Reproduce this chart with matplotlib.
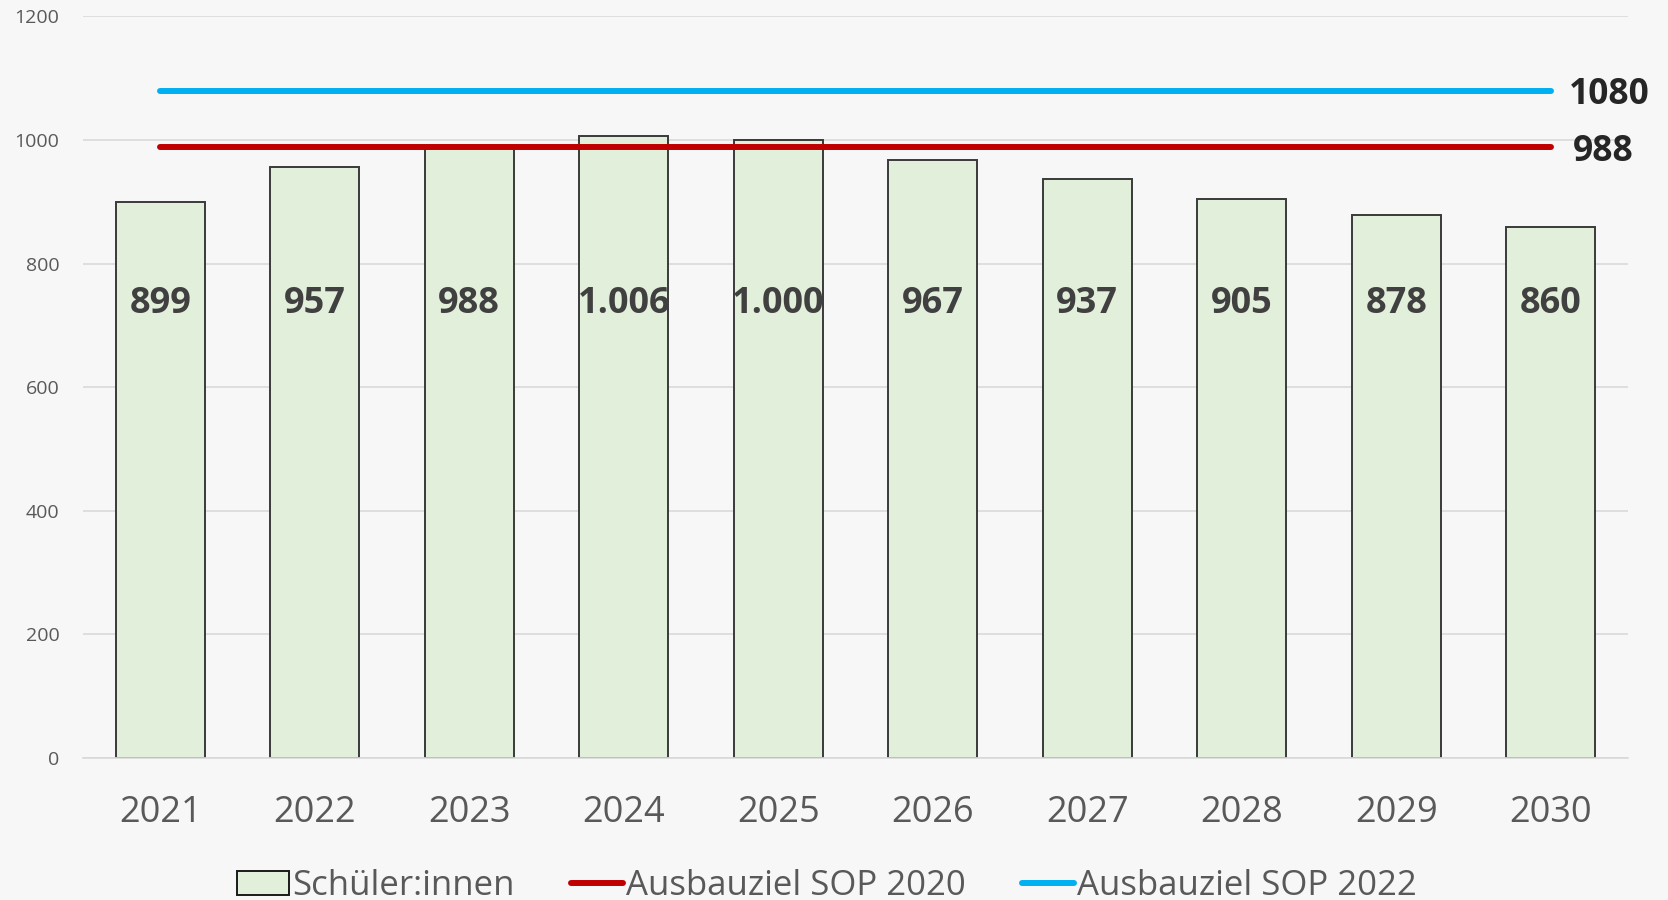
import matplotlib
matplotlib.use("Agg")
import matplotlib.pyplot as plt
from matplotlib.patches import Patch
from matplotlib.lines import Line2D

years = ["2021", "2022", "2023", "2024", "2025", "2026", "2027", "2028", "2029", "2030"]
students = [899, 957, 988, 1006, 1000, 967, 937, 905, 878, 860]
bar_labels = ["899", "957", "988", "1.006", "1.000", "967", "937", "905", "878", "860"]
target_2020 = 988
target_2022 = 1080
yticks = [0, 200, 400, 600, 800, 1000, 1200]

plt.rcParams['font.family'] = ['Open Sans', 'DejaVu Sans']

BG = "#f7f7f7"
fig = plt.figure(figsize=(16.68, 9.0), dpi=100, facecolor=BG)
ax = fig.add_axes([83/1668, 1 - 758/900, (1628 - 83)/1668, (758 - 16.4)/900])
ax.set_facecolor(BG)

x = list(range(len(years)))
ax.bar(x, students, width=0.576, color="#e2efda", edgecolor="#3a3a3a", linewidth=1.4, zorder=2)

for xi, lab in zip(x, bar_labels):
    ax.text(xi, 734, lab, ha="center", va="center", fontsize=26, fontweight="bold",
            color="#404040", zorder=4)

ax.plot([x[0], x[-1]], [target_2020, target_2020], color="#c00000", lw=4.3,
        solid_capstyle="round", zorder=3)
ax.plot([x[0], x[-1]], [target_2022, target_2022], color="#00b0f0", lw=4.3,
        solid_capstyle="round", zorder=3)
ax.annotate(str(target_2022), (x[-1], target_2022), xytext=(13, -3), textcoords="offset points",
            ha="left", va="center", fontsize=25.5, fontweight="bold", color="#262626",
            annotation_clip=False)
ax.annotate(str(target_2020), (x[-1], target_2020), xytext=(16, -3), textcoords="offset points",
            ha="left", va="center", fontsize=25.5, fontweight="bold", color="#262626",
            annotation_clip=False)

ax.set_xlim(-0.5, len(years) - 0.5)
ax.set_ylim(0, 1200)
ax.set_yticks(yticks)
ax.set_yticklabels([str(v) for v in yticks], fontsize=14, color="#595959")
ax.set_xticks(x)
ax.set_xticklabels(years, fontsize=26, color="#595959")
ax.tick_params(axis="y", length=0, pad=17)
ax.tick_params(axis="x", length=0, pad=27)
ax.grid(axis="y", color="#d9d9d9", lw=1.2, zorder=0)
ax.set_axisbelow(True)
for s in ["left", "right", "top"]:
    ax.spines[s].set_visible(False)
ax.spines["bottom"].set_color("#d9d9d9")
ax.spines["bottom"].set_linewidth(1.2)

handles = [
    Patch(facecolor="#e2efda", edgecolor="#1a1a1a", linewidth=1.4, label="Schüler:innen"),
    Line2D([0], [0], color="#c00000", lw=4.3, solid_capstyle="round", label="Ausbauziel SOP 2020"),
    Line2D([0], [0], color="#00b0f0", lw=4.3, solid_capstyle="round", label="Ausbauziel SOP 2022"),
]
leg = fig.legend(handles=handles, loc="center", bbox_to_anchor=(827/1668, 1 - 886/900), ncol=3,
                 frameon=False, fontsize=25, handlelength=1.5, handletextpad=0.1,
                 columnspacing=1.6, labelcolor="#595959")

fig.savefig("out.png", dpi=100, facecolor=BG)
